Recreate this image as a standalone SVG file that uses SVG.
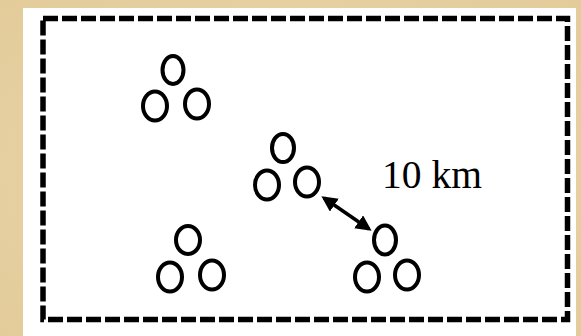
<svg xmlns="http://www.w3.org/2000/svg" width="581" height="336" viewBox="0 0 581 336">
<defs>
<style>
.c{fill:none;stroke:#000;stroke-width:4}
.lbl{font-family:"Liberation Serif","Times New Roman",serif;font-size:39.5px;fill:#000}
</style>
<radialGradient id="bg" cx="0.5" cy="0.5" r="0.7">
<stop offset="0" stop-color="#EBD8AE"/>
<stop offset="1" stop-color="#E3CB9A"/>
</radialGradient>
<marker id="ah" viewBox="0 0 10 10" refX="8" refY="5" markerWidth="4.5" markerHeight="4.5" orient="auto-start-reverse">
<path d="M0,0 L10,5 L0,10 z" fill="#000"/>
</marker>
</defs>
<rect x="0" y="0" width="581" height="336" fill="url(#bg)"/>
<rect x="23" y="8" width="553" height="328" fill="#fff"/>
<rect x="43" y="18.5" width="524.5" height="301" fill="none" stroke="#000" stroke-width="5.5" stroke-dasharray="15 4"/>
<g id="cluster1">
<ellipse class="c" cx="173" cy="70" rx="10.5" ry="14"/>
<ellipse class="c" cx="155" cy="106" rx="12" ry="14.5"/>
<ellipse class="c" cx="197" cy="104" rx="12" ry="14.5"/>
</g>
<g id="cluster2">
<ellipse class="c" cx="283" cy="148" rx="11" ry="14"/>
<ellipse class="c" cx="267" cy="185" rx="12" ry="14.5"/>
<ellipse class="c" cx="307" cy="182" rx="12" ry="14.5"/>
</g>
<g id="cluster3">
<ellipse class="c" cx="188" cy="240" rx="12" ry="14"/>
<ellipse class="c" cx="170" cy="277" rx="12" ry="14.5"/>
<ellipse class="c" cx="212" cy="275" rx="12" ry="14.5"/>
</g>
<g id="cluster4">
<ellipse class="c" cx="385" cy="240" rx="11" ry="14.5"/>
<ellipse class="c" cx="367" cy="277" rx="12" ry="14.5"/>
<ellipse class="c" cx="407" cy="275" rx="12" ry="14.5"/>
</g>
<g id="connectors">
<line x1="324" y1="198" x2="369" y2="229" stroke="#000" stroke-width="3.5" marker-start="url(#ah)" marker-end="url(#ah)"/>
</g>
<text class="lbl" x="382" y="188">10 km</text>
</svg>
